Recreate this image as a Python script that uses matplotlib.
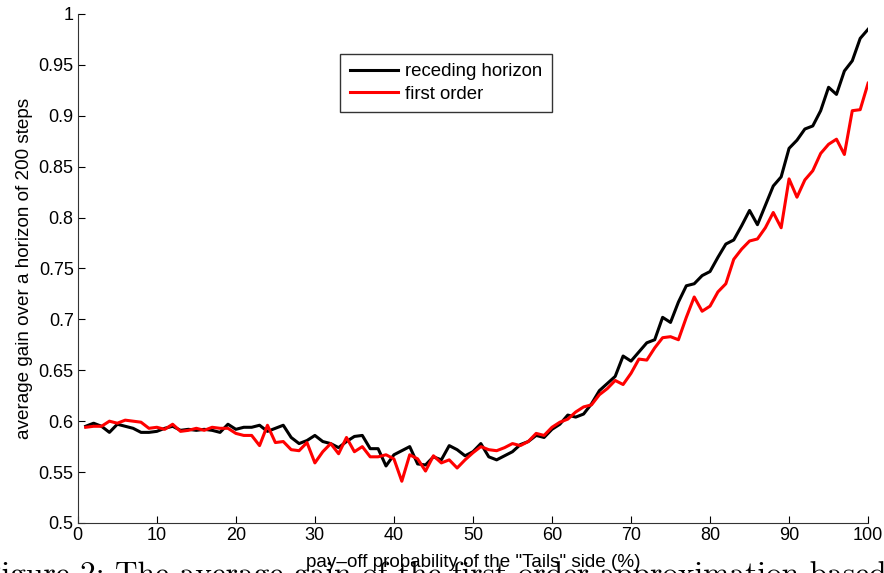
import numpy as np
import matplotlib.pyplot as plt

# pay-off probability of the "Tails" side (%)
prob = np.arange(1, 101)

receding = [
    0.595, 0.598, 0.595, 0.589, 0.597, 0.595, 0.593, 0.589, 0.589, 0.590,
    0.593, 0.595, 0.591, 0.592, 0.591, 0.592, 0.591, 0.589, 0.597, 0.592,
    0.594, 0.594, 0.596, 0.590, 0.593, 0.596, 0.584, 0.578, 0.581, 0.586,
    0.580, 0.578, 0.574, 0.580, 0.585, 0.586, 0.573, 0.573, 0.556, 0.567,
    0.571, 0.575, 0.558, 0.557, 0.565, 0.562, 0.576, 0.572, 0.566, 0.570,
    0.578, 0.565, 0.562, 0.566, 0.570, 0.577, 0.580, 0.586, 0.584, 0.592,
    0.597, 0.606, 0.604, 0.607, 0.617, 0.630, 0.637, 0.644, 0.664, 0.659,
    0.668, 0.677, 0.680, 0.702, 0.697, 0.717, 0.733, 0.735, 0.743, 0.747,
    0.761, 0.774, 0.778, 0.792, 0.807, 0.793, 0.812, 0.831, 0.840, 0.868,
    0.876, 0.887, 0.890, 0.905, 0.928, 0.921, 0.944, 0.954, 0.976, 0.985,
]

first_order = [
    0.594, 0.595, 0.595, 0.600, 0.598, 0.601, 0.600, 0.599, 0.593, 0.594,
    0.592, 0.597, 0.590, 0.591, 0.593, 0.591, 0.594, 0.593, 0.593, 0.588,
    0.586, 0.586, 0.576, 0.596, 0.579, 0.580, 0.572, 0.571, 0.579, 0.559,
    0.570, 0.578, 0.568, 0.584, 0.570, 0.575, 0.565, 0.565, 0.567, 0.563,
    0.541, 0.567, 0.563, 0.551, 0.566, 0.559, 0.562, 0.554, 0.562, 0.569,
    0.575, 0.572, 0.571, 0.574, 0.578, 0.576, 0.580, 0.588, 0.586, 0.594,
    0.599, 0.602, 0.609, 0.614, 0.616, 0.626, 0.632, 0.640, 0.636, 0.647,
    0.661, 0.660, 0.672, 0.682, 0.683, 0.680, 0.702, 0.722, 0.708, 0.713,
    0.727, 0.735, 0.759, 0.769, 0.777, 0.779, 0.790, 0.805, 0.790, 0.838,
    0.820, 0.837, 0.846, 0.863, 0.872, 0.877, 0.862, 0.905, 0.906, 0.932,
]

plt.rcParams['font.family'] = ['Liberation Sans', 'DejaVu Sans']

fig = plt.figure(figsize=(8.84, 5.73), dpi=100)
ax = fig.add_axes([0.088, 0.0873, 0.894, 0.8883])

ax.plot(prob, receding, color='black', lw=2.2, label='receding horizon')
ax.plot(prob, first_order, color='red', lw=2.2, label='first order')

ax.set_xlim(0, 100)
ax.set_ylim(0.5, 1)
ax.set_xticks(np.arange(0, 101, 10))
ax.set_yticks(np.arange(0.5, 1.001, 0.05))
ax.set_yticklabels(['0.5', '0.55', '0.6', '0.65', '0.7', '0.75',
                    '0.8', '0.85', '0.9', '0.95', '1'])
ax.tick_params(direction='in', length=5, width=0.8, labelsize=13,
               pad=3, colors='black')

for side in ['top', 'right']:
    ax.spines[side].set_visible(False)
for side in ['left', 'bottom']:
    ax.spines[side].set_color('#333333')
    ax.spines[side].set_linewidth(0.8)

ax.set_xlabel('pay\u2013off probability of the "Tails" side (%)', fontsize=13.6, labelpad=7)
ax.set_ylabel('average gain over a horizon of 200 steps', fontsize=13.6, labelpad=4)

leg = ax.legend(loc='upper left', bbox_to_anchor=(0.385, 0.906),
                bbox_transform=fig.transFigure, fontsize=13.4,
                frameon=True, fancybox=False, borderaxespad=0,
                handlelength=2.6, handletextpad=0.4, labelspacing=0.3,
                borderpad=0.5)
leg.get_frame().set_edgecolor('black')
leg.get_frame().set_linewidth(1.0)

# caption of the page, cut off at the bottom edge
fig.text(-0.021, -0.017, 'Figure 2: The average gain of the first order approximation based',
         family='cmr10', fontsize=22.6, ha='left', va='baseline')

fig.savefig('out.png', dpi=100)
